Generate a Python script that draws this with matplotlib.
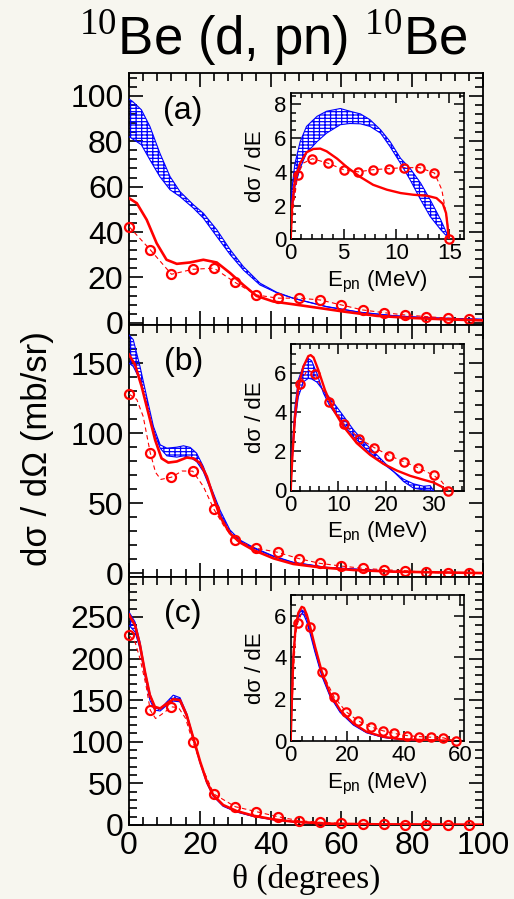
import numpy as np
import matplotlib
matplotlib.use("Agg")
import matplotlib.pyplot as plt
from matplotlib.ticker import MultipleLocator

plt.rcParams['font.family'] = ['Liberation Sans', 'DejaVu Sans']
plt.rcParams['mathtext.fontset'] = 'custom'
plt.rcParams['mathtext.rm'] = 'Liberation Serif'
plt.rcParams['mathtext.sf'] = 'Liberation Sans'
plt.rcParams['hatch.linewidth'] = 0.9

BG = '#f7f6ef'
RED = '#ff0000'
BLUE = '#0000ff'

# ---------------- angular distributions ----------------
theta_exp = [0, 6, 12, 18, 24, 30, 36, 42, 48, 54, 60, 66, 72, 78, 84, 90, 96]

# panel (a)
a_exp = [42.4, 32.2, 21.4, 23.6, 24.1, 17.8, 12.3, 10.9, 10.9, 10.1, 7.9, 5.7, 4.5, 3.5, 2.8, 2.1, 1.6]
a_dash_theta = theta_exp
a_dash = a_exp
a_red_theta = [0, 2.2, 5, 7.8, 10.6, 13.5, 17.2, 21, 24.8, 28.6, 32.3, 36, 40.8, 46.4, 54, 60.6, 70, 79.4, 88.9, 100]
a_red = [54.9, 52.7, 45.4, 35.1, 27.8, 26.0, 26.6, 27.8, 26.6, 21.9, 16.7, 11.9, 9.4, 8.2, 6.5, 5.0, 3.1, 2.2, 1.6, 1.1]
a_blue_theta = [0, 1, 3.5, 5.9, 8.7, 11.6, 14.4, 18.2, 21, 24.8, 28.6, 32.3, 37, 41.7, 46.4, 55.8, 65.3, 74.7, 84, 100]
a_blue_hi = [98.5, 97.5, 93.8, 86.5, 74.8, 64.4, 57.8, 52, 48.3, 41, 32.2, 24.8, 17.5, 13.5, 10.9, 7.2, 4.7, 3.2, 2.3, 1.6]
a_blue_lo = [82, 81, 78.4, 71.8, 64.4, 58.6, 55.6, 50.5, 46.1, 38, 30, 23.3, 16.7, 13.3, 10.8, 7.1, 4.65, 3.15, 2.25, 1.55]

# panel (b)
b_exp = [127.9, 85.7, 68.6, 72.9, 45.7, 23.8, 17.9, 15.0, 10.5, 7.1, 5.2, 3.6, 2.6, 1.9, 0.7, 0.2, 0.0]
b_dash_theta = [0, 2.2, 4, 6, 7.5, 9, 12, 15, 18, 21, 24, 27, 30, 36, 42, 48, 54, 60, 66, 72, 78, 84, 90, 96]
b_dash = [127.9, 124, 112, 86, 72, 67, 68.6, 73, 72.9, 62, 45.7, 33, 23.8, 17.9, 15.0, 10.5, 7.1, 5.2, 3.6, 2.6, 1.9, 0.7, 0.2, 0.0]
b_red_theta = [0, 1.7, 3.6, 5.5, 7.4, 9.2, 11.1, 13.5, 16.3, 18.2, 20.1, 22, 23.8, 25.7, 28.5, 31.3, 35.1, 40.8, 46.4, 53.9, 63.4, 74.7, 100]
b_red = [156, 148.8, 133, 114, 95, 82, 79, 79.8, 82.6, 82, 78.6, 69, 54.8, 40.5, 28.6, 22.1, 16.7, 10.7, 6.7, 4.3, 2.4, 1.2, 0.2]
b_blue_theta = [0, 1.2, 3.1, 5, 6.9, 8.8, 10.7, 13.5, 15.4, 17.3, 19.1, 21, 22.9, 25.7, 28.5, 31.3, 35.1, 40.8, 46.4, 55.8, 74.7, 100]
b_blue_hi = [170, 166.7, 147.6, 126, 104.8, 91.7, 89.3, 90, 91, 89.8, 85.7, 76.2, 63.1, 45.2, 31, 23.8, 18.6, 12.4, 7.9, 4.3, 1.4, 0.2]
b_blue_lo = [150, 147.6, 138, 119, 102, 89.3, 83.8, 82.9, 83.8, 82.6, 79.8, 72.6, 60.7, 42.9, 29, 22.8, 18.0, 12.0, 7.7, 4.2, 1.35, 0.2]

# panel (c)
c_exp = [228, 138, 142, 100, 37.2, 22, 16, 10, 5.2, 3.2, 2, 0.8, 0.7, 0.6, 0.5, 0.5, 0.5]
c_dash_theta = [0, 1.7, 3.1, 4.8, 6, 7.5, 8.9, 10.8, 12, 14, 16, 18, 21, 24, 30, 36, 42, 48, 54, 60, 66, 72, 78, 84, 90, 96]
c_dash = [228, 220, 200, 168, 138, 128, 132, 138, 142, 141, 128, 100, 66, 37.2, 22, 16, 10, 5.2, 3.2, 2, 0.8, 0.7, 0.6, 0.5, 0.5, 0.5]
c_red_theta = [0, 1.7, 3.1, 4.5, 5.9, 7.3, 8.8, 10.7, 12.5, 14.4, 16.3, 18.2, 20.1, 22, 23.8, 26.6, 30.4, 35.1, 40.8, 46.4, 55.8, 70, 100]
c_red = [252.8, 240, 216, 184, 156, 142, 140, 146, 151.2, 150, 132, 104, 76, 52, 36, 24, 16.8, 11.2, 6.8, 4, 1.6, 0.8, 0.4]
c_blue_theta = c_red_theta
c_blue_hi = [256, 244, 220, 186, 158, 141, 139, 148, 156, 153, 134, 105, 76, 51, 35, 23, 16, 10.5, 6.4, 3.8, 1.5, 0.7, 0.4]
c_blue_lo = [240, 232, 212, 180, 150, 138, 137, 144, 149, 148, 130, 102, 74, 50, 34.5, 22.5, 15.6, 10.3, 6.2, 3.7, 1.4, 0.7, 0.4]

# ---------------- energy spectra (insets) ----------------
ia_exp_E = [0.66, 2.05, 3.5, 5.0, 6.4, 7.8, 9.3, 10.7, 12.2, 13.6, 15.0]
ia_exp = [3.83, 4.78, 4.52, 4.13, 4.0, 4.13, 4.19, 4.25, 4.25, 3.93, 0.0]
ia_dash_E = [0, 0.25, 0.66, 1.2, 2.05, 3.5, 5.0, 6.4, 7.8, 9.3, 10.7, 12.2, 13.6, 14.3, 14.8, 15.0]
ia_dash = [0, 1.94, 3.83, 4.52, 4.78, 4.52, 4.13, 4.0, 4.13, 4.19, 4.25, 4.25, 3.93, 2.94, 1.15, 0]
ia_red_E = [0, 0.13, 0.4, 0.9, 1.5, 2.15, 2.8, 3.4, 4.4, 5.3, 6.6, 7.8, 9.1, 10.4, 11.6, 12.9, 13.8, 14.4, 14.7, 14.85, 14.95]
ia_red = [0, 1.94, 3.53, 4.52, 5.16, 5.36, 5.38, 5.22, 4.78, 4.29, 3.69, 3.23, 2.94, 2.74, 2.64, 2.58, 2.44, 2.1, 1.55, 0.75, 0]
ia_blue_E = [0, 0.1, 0.4, 0.9, 1.5, 2.5, 3.4, 4.7, 5.6, 6.6, 7.5, 8.5, 9.4, 10.4, 11.3, 12.3, 13.2, 14.2, 14.8, 14.95]
ia_blue_hi = [0, 2.9, 4.5, 5.8, 6.7, 7.3, 7.6, 7.76, 7.6, 7.44, 7.1, 6.5, 5.8, 4.8, 4.2, 3.33, 2.34, 1.15, 0.3, 0]
ia_blue_lo = [0, 1.55, 3.13, 4.23, 5.12, 5.8, 6.3, 6.8, 6.87, 6.85, 6.7, 6.3, 5.5, 4.5, 3.53, 2.34, 1.35, 0.56, 0.16, 0]

ib_exp_E = [1.96, 5.1, 8.1, 11.2, 14.4, 17.5, 20.7, 23.8, 26.8, 30.0, 33.1]
ib_exp = [5.43, 5.95, 4.53, 3.41, 2.66, 2.2, 1.79, 1.47, 1.16, 0.78, 0]
ib_dash_E = [0, 0.56, 1.26, 1.96, 3.5, 5.1, 8.1, 11.2, 14.4, 17.5, 20.7, 23.8, 26.8, 30.0, 31.7, 33.1]
ib_dash = [0, 2.6, 4.63, 5.43, 6.2, 5.95, 4.53, 3.41, 2.66, 2.2, 1.79, 1.47, 1.16, 0.78, 0.46, 0]
ib_red_E = [0, 0.35, 0.9, 1.6, 2.66, 3.7, 4.2, 4.8, 5.8, 7.2, 9, 11.1, 13.9, 16.7, 19.5, 22.3, 25.1, 27.9, 30, 31.7, 32.7]
ib_red = [0, 1.74, 3.78, 5.3, 6.34, 6.88, 6.93, 6.81, 6.17, 5.14, 4.12, 3.27, 2.42, 1.82, 1.36, 1.02, 0.75, 0.55, 0.41, 0.2, 0]
ib_blue_E = [0, 0.3, 0.9, 1.6, 2.7, 3.7, 4.4, 5.5, 6.9, 8.3, 10.4, 13.2, 16, 18.8, 21.6, 23.7, 25.8, 27.9, 29.3, 30]
ib_blue_hi = [0, 2.08, 4.29, 5.66, 6.42, 6.76, 6.64, 6.0, 4.97, 4.29, 3.61, 2.76, 2.08, 1.48, 0.97, 0.58, 0.34, 0.22, 0.25, 0]
ib_blue_lo = [0, 1.5, 3.5, 4.8, 5.57, 5.74, 5.71, 5.55, 5.1, 4.72, 4.04, 3.1, 2.33, 1.65, 0.97, 0.46, 0.12, 0.03, 0.02, 0]

ic_exp_E = [2.5, 6.85, 11, 15.3, 19.6, 24, 28.3, 32.6, 36.7, 41.1, 45.5, 49.7, 54.1, 58.4]
ic_exp = [5.65, 5.44, 3.33, 2.13, 1.41, 0.96, 0.69, 0.5, 0.37, 0.27, 0.22, 0.19, 0.16, 0]
ic_dash_E = [0, 0.94, 1.8, 2.5, 3.9, 5.1, 6.85, 11, 15.3, 19.6, 24, 28.3, 32.6, 36.7, 41.1, 45.5, 49.7, 54.1, 58.4]
ic_dash = [0, 3.25, 5.17, 5.65, 6.13, 6.1, 5.44, 3.33, 2.13, 1.41, 0.96, 0.69, 0.5, 0.37, 0.27, 0.22, 0.19, 0.16, 0]
ic_red_E = [0, 0.35, 0.94, 1.77, 2.7, 3.9, 4.7, 5.7, 6.85, 8.6, 11, 13.9, 17.5, 22.2, 26.9, 32.8, 38.7, 48.2, 57.6]
ic_red = [0, 1.65, 4.05, 5.49, 6.13, 6.42, 6.37, 6.05, 5.49, 4.53, 3.33, 2.29, 1.49, 0.85, 0.45, 0.21, 0.1, 0.05, 0.02]
ic_blue_E = ic_red_E
ic_blue_hi = [0, 1.7, 4.1, 5.5, 6.05, 6.28, 6.2, 5.85, 5.3, 4.35, 3.2, 2.2, 1.42, 0.8, 0.42, 0.19, 0.09, 0.04, 0.01]
ic_blue_lo = [0, 1.6, 3.95, 5.35, 5.9, 6.1, 6.02, 5.7, 5.15, 4.25, 3.12, 2.15, 1.38, 0.77, 0.4, 0.18, 0.08, 0.04, 0.01]

panels = [
    dict(label='(a)', exp=a_exp, dash=(a_dash_theta, a_dash), red=(a_red_theta, a_red),
         blue=(a_blue_theta, a_blue_hi, a_blue_lo), ylim=(-0.7, 110), major=20, minor=4),
    dict(label='(b)', exp=b_exp, dash=(b_dash_theta, b_dash), red=(b_red_theta, b_red),
         blue=(b_blue_theta, b_blue_hi, b_blue_lo), ylim=(-2.6, 177.5), major=50, minor=10),
    dict(label='(c)', exp=c_exp, dash=(c_dash_theta, c_dash), red=(c_red_theta, c_red),
         blue=(c_blue_theta, c_blue_hi, c_blue_lo), ylim=(0, 298), major=50, minor=10),
]
insets = [
    dict(exp=(ia_exp_E, ia_exp), dash=(ia_dash_E, ia_dash), red=(ia_red_E, ia_red),
         blue=(ia_blue_E, ia_blue_hi, ia_blue_lo), xlim=(0, 16.4), ylim=(0, 8.7),
         xmaj=5, xmin=1, ymaj=2, ymin=0.5),
    dict(exp=(ib_exp_E, ib_exp), dash=(ib_dash_E, ib_dash), red=(ib_red_E, ib_red),
         blue=(ib_blue_E, ib_blue_hi, ib_blue_lo), xlim=(0, 36.4), ylim=(0, 7.5),
         xmaj=10, xmin=2, ymaj=2, ymin=0.5),
    dict(exp=(ic_exp_E, ic_exp), dash=(ic_dash_E, ic_dash), red=(ic_red_E, ic_red),
         blue=(ic_blue_E, ic_blue_hi, ic_blue_lo), xlim=(0, 61.4), ylim=(0, 7.0),
         xmaj=20, xmin=4, ymaj=2, ymin=0.5),
]


def draw_curves(ax, exp_x, exp_y, dash, red, blue, xgrid, ms, lw_red):
    bx, bhi, blo = blue
    # white area under the envelope of all curves
    curves = [(bx, bhi), (bx, blo), red, dash, (exp_x, exp_y)]
    env = np.zeros_like(xgrid)
    for cx, cy in curves:
        cx = np.asarray(cx, float)
        cy = np.asarray(cy, float)
        yi = np.interp(xgrid, cx, cy, left=0, right=0)
        env = np.maximum(env, yi)
    ax.fill_between(xgrid, ax.get_ylim()[0], env, color='white', lw=0, zorder=1)
    ax.fill_between(bx, blo, bhi, facecolor='none', edgecolor=BLUE, hatch='-----|||',
                    lw=0, zorder=2)
    ax.plot(bx, bhi, color=BLUE, lw=0.8, zorder=3)
    ax.plot(bx, blo, color=BLUE, lw=0.8, zorder=3)
    ax.plot(*red, color=RED, lw=lw_red, zorder=4)
    ax.plot(*dash, color=RED, lw=0.8, ls=(0, (4, 3)), zorder=4)
    ax.plot(exp_x, exp_y, ls='none', marker='o', ms=ms, mfc='none', mec=RED,
            mew=1.6, zorder=5, clip_on=False)


fig = plt.figure(figsize=(5.14, 8.99), dpi=100, facecolor=BG)

left, width = 129 / 514, 354 / 514
edges = [73, 324.5, 577, 825]
H = 899.0
axes = []
for i, p in enumerate(panels):
    top, bot = edges[i], edges[i + 1]
    ax = fig.add_axes([left, 1 - bot / H, width, (bot - top) / H], facecolor=BG)
    ax.set_xlim(0, 100)
    ax.set_ylim(*p['ylim'])
    draw_curves(ax, theta_exp, p['exp'], p['dash'], p['red'], p['blue'],
                np.linspace(0, 100, 600), 6.5, 1.9)
    ax.xaxis.set_major_locator(MultipleLocator(20))
    ax.xaxis.set_minor_locator(MultipleLocator(4))
    ax.yaxis.set_major_locator(MultipleLocator(p['major']))
    ax.yaxis.set_minor_locator(MultipleLocator(p['minor']))
    ax.tick_params(which='both', direction='in', top=True, right=True, width=1.2,
                   labelsize=23, pad=4)
    ax.tick_params(which='major', length=10)
    ax.tick_params(which='minor', length=5.5)
    for s in ax.spines.values():
        s.set_linewidth(1.3)
    if i < 2:
        ax.tick_params(labelbottom=False)
    ax.set_yticks(np.arange(0, p['ylim'][1], p['major']))
    ax.text(0.153, 0.85, p['label'], transform=ax.transAxes, fontsize=23,
            ha='center', va='center', zorder=6)
    axes.append(ax)

fig.text(left + width / 2, 1 - 888 / H, 'θ (degrees)',
         family=['Liberation Serif', 'DejaVu Serif'], fontsize=24,
         ha='center', va='baseline')
fig.text(0.072, 1 - 449 / H, 'dσ / dΩ (mb/sr)', rotation=90, fontsize=25,
         ha='center', va='center')

inset_tops = [92.7, 344, 594.7]
for ins, top in zip(insets, inset_tops):
    ax = fig.add_axes([290.7 / 514, 1 - (top + 146.5) / H, 173.3 / 514, 146.5 / H],
                      facecolor=BG)
    ax.set_xlim(*ins['xlim'])
    ax.set_ylim(*ins['ylim'])
    draw_curves(ax, ins['exp'][0], ins['exp'][1], ins['dash'], ins['red'], ins['blue'],
                np.linspace(0, ins['xlim'][1], 600), 6.0, 1.7)
    ax.xaxis.set_major_locator(MultipleLocator(ins['xmaj']))
    ax.xaxis.set_minor_locator(MultipleLocator(ins['xmin']))
    ax.yaxis.set_major_locator(MultipleLocator(ins['ymaj']))
    ax.yaxis.set_minor_locator(MultipleLocator(ins['ymin']))
    ax.tick_params(which='both', direction='in', top=True, right=True, width=1.1,
                   labelsize=16, pad=3)
    ax.tick_params(which='major', length=7)
    ax.tick_params(which='minor', length=3.5)
    for s in ax.spines.values():
        s.set_linewidth(1.2)
    ax.set_xlabel(r'E$_{\mathregular{pn}}$ (MeV)', fontsize=16, labelpad=3)
    ax.set_ylabel('dσ / dE', fontsize=16, labelpad=6)

fig.text(0.531, 1 - 55 / H, r'$^{10}$Be (d, pn) $^{10}$Be', fontsize=38,
         ha='center', va='baseline')

fig.savefig('out.png', dpi=100, facecolor=BG)
